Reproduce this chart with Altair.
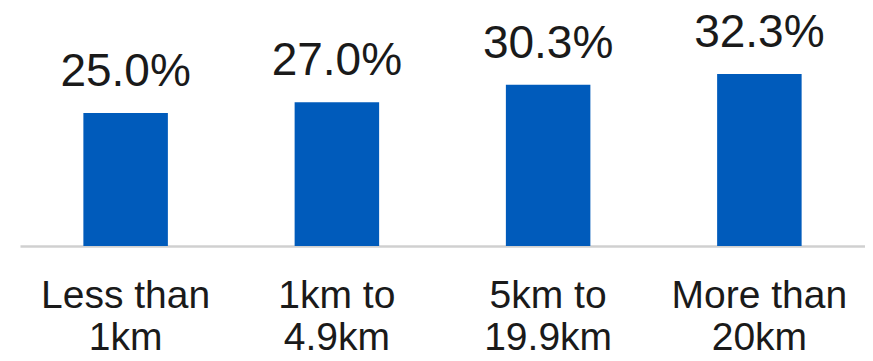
import altair as alt
import pandas as pd

categories = ["Less than 1km", "1km to 4.9km", "5km to 19.9km", "More than 20km"]
values = [25.0, 27.0, 30.3, 32.3]
labels = ["25.0%", "27.0%", "30.3%", "32.3%"]

df = pd.DataFrame({"cat": categories, "val": values, "lab": labels})

x = alt.X(
    "cat:N",
    sort=categories,
    title=None,
    scale=alt.Scale(paddingInner=0.6, paddingOuter=0.3),
    axis=alt.Axis(
        labelAngle=0,
        labelFont="Liberation Sans",
        labelFontSize=39,
        labelColor="#1a1a1a",
        labelLineHeight=42,
        labelPadding=30,
        labelBaseline="top",
        ticks=False,
        domainColor="#d0d0d0",
        domainWidth=2.5,
        labelExpr="[substring(datum.label, 0, lastindexof(datum.label, ' ')), substring(datum.label, lastindexof(datum.label, ' ') + 1)]",
    ),
)
y = alt.Y("val:Q", scale=alt.Scale(domain=[0, 40]), axis=None)

bars = alt.Chart(df).mark_bar(color="#005BBB").encode(x=x, y=y)
text = alt.Chart(df).mark_text(
    baseline="alphabetic", dy=-27, font="Liberation Sans", fontSize=46, color="#1a1a1a"
).encode(x=x, y=y, text="lab:N")

chart = (
    alt.layer(bars, text)
    .properties(
        width=845,
        height=213,
        autosize=alt.AutoSizeParams(type="none"),
        padding={"left": 12, "top": 25, "right": 0, "bottom": 110},
    )
    .configure_view(stroke=None)
    .configure_axis(grid=False)
)

chart.save("out.html", embed_options={"renderer": "svg", "actions": False})
